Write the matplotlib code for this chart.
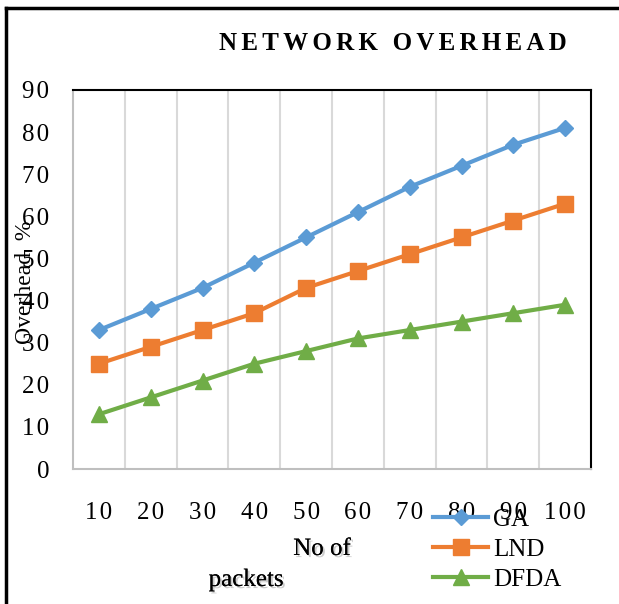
import matplotlib.pyplot as plt
import matplotlib.patheffects as pe
from matplotlib.lines import Line2D
import numpy as np

plt.rcParams['font.family'] = ['Liberation Serif', 'DejaVu Serif']

packets = ['10', '20', '30', '40', '50', '60', '70', '80', '90', '100']
ga = [33, 38, 43, 49, 55, 61, 67, 72, 77, 81]
lnd = [25, 29, 33, 37, 43, 47, 51, 55, 59, 63]
dfda = [13, 17, 21, 25, 28, 31, 33, 35, 37, 39]

HAIR = '\u200a'


def spaced(s, n=1):
    # loosen letter spacing a little
    return (HAIR * n).join(s)


W, H = 619, 604
fig = plt.figure(figsize=(W / 100, H / 100), dpi=100)
ax = fig.add_axes([73 / W, 1 - 469 / H, (591 - 73) / W, (469 - 90) / H])

x = np.arange(len(packets))
ax.plot(x, ga, color='#5B9BD5', lw=3, marker='D', ms=8, label='GA')
ax.plot(x, lnd, color='#ED7D31', lw=3, marker='s', ms=12, label='LND')
ax.plot(x, dfda, color='#70AD47', lw=3, marker='^', ms=12, label='DFDA')

ax.set_xlim(-0.5, len(packets) - 0.5)
ax.set_ylim(0, 90)
yt = list(range(0, 91, 10))
ax.set_yticks(yt)
ax.set_yticklabels([spaced(str(v)) for v in yt])
ax.set_xticks(x)
ax.set_xticklabels([spaced(p) for p in packets])
# vertical gridlines sit between categories
for b in np.arange(0.5, len(packets) - 0.5, 1):
    ax.axvline(b, color='#D9D9D9', lw=1.5, zorder=0)

ax.tick_params(axis='both', length=0, labelsize=18)
ax.tick_params(axis='x', pad=24)
ax.tick_params(axis='y', pad=17)

for s in ['left', 'bottom']:
    ax.spines[s].set_color('#BFBFBF')
    ax.spines[s].set_linewidth(1.5)
for s in ['top', 'right']:
    ax.spines[s].set_color('black')
    ax.spines[s].set_linewidth(1.5)

fig.text(393 / W, 1 - 44 / H, spaced('NETWORK OVERHEAD', 2),
         fontsize=18, fontweight='bold', ha='center', va='center')

fig.text(26 / W, 1 - 282 / H, 'Overhead  %', rotation=90, fontsize=17,
         ha='center', va='center')

shadow = [pe.withSimplePatchShadow(offset=(1.5, -1.5), shadow_rgbFace='gray', alpha=0.4),
          pe.Normal()]
fig.text(322 / W, 1 - 549 / H, 'No of', fontsize=18, ha='center', va='center',
         path_effects=shadow)
fig.text(246 / W, 1 - 580 / H, 'packets', fontsize=18, ha='center', va='center',
         path_effects=shadow)

fig.legend(loc='upper left', bbox_to_anchor=(433 / W, 1 - 508 / H), frameon=False,
           fontsize=18, handlelength=2.2, handletextpad=0.2, labelspacing=0.3,
           borderpad=0, borderaxespad=0)

# outer border, clipped at the right and bottom edges
fig.add_artist(Line2D([6 / W, 6 / W], [0, 1 - 8 / H], color='black', lw=2.5,
                      transform=fig.transFigure))
fig.add_artist(Line2D([6 / W, 1], [1 - 8 / H, 1 - 8 / H], color='black', lw=2.5,
                      transform=fig.transFigure))

fig.savefig('out.png', dpi=100)
